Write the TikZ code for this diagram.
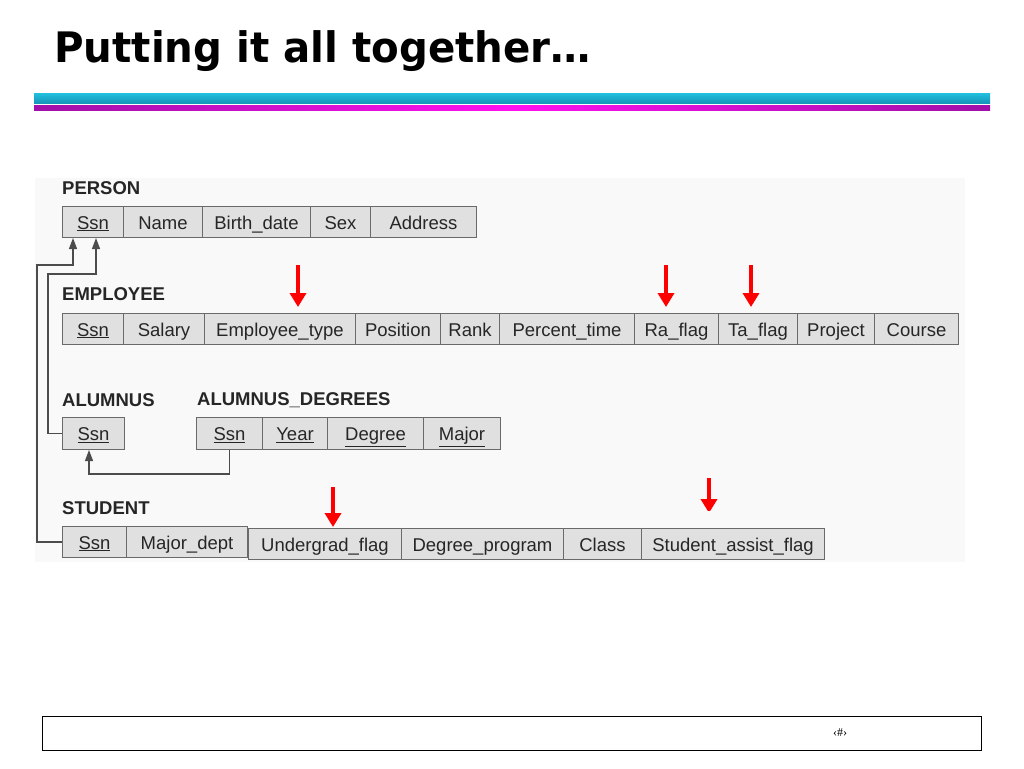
\documentclass[tikz,border=0pt]{standalone}
\usepackage{fontspec}
\setmainfont{Liberation Sans}
\newfontfamily\titlefont{DejaVu Sans}
\newfontfamily\footfont{Liberation Serif}
\usetikzlibrary{arrows.meta,calc}
\definecolor{cellfill}{HTML}{E0E0E0}
\definecolor{cellline}{HTML}{6A6A6A}
\definecolor{cyanA}{HTML}{22C0DF}
\definecolor{cyanB}{HTML}{1696B8}
\definecolor{magA}{HTML}{A010A8}
\definecolor{magB}{HTML}{FF10F0}
\definecolor{figbg}{HTML}{F9F9F9}
\tikzset{
  cell/.style={draw=cellline, fill=cellfill, line width=1pt, anchor=north west,
    inner sep=0pt, minimum height=31pt, text height=15pt, text depth=1pt,
    font=\fontsize{18.5}{20}\selectfont, text=black!85},
  rel/.style={anchor=west, inner sep=0pt, font=\bfseries\fontsize{18.5}{20}\selectfont, text=black!85},
  fk/.style={draw=black!70, line width=1.2pt, -{Triangle[length=11pt,width=8pt]}},
  redarrow/.style={draw=red, line width=4pt, -{Triangle[length=14pt,width=16pt]}},
}
\newcommand{\key}[1]{\underline{#1}}
\begin{document}
\begin{tikzpicture}[x=1pt,y=-1pt]
\useasboundingbox (0,0) rectangle (1024,768);
% title
\node[anchor=base west, inner sep=0pt, font=\titlefont\bfseries\fontsize{42}{46}\selectfont, xscale=0.96] (title) at (54,63) {Putting it all together…};
% bars
\shade[top color=cyanA, bottom color=cyanB] (34,93) rectangle (990,103);
\shade[left color=magA, right color=magA, middle color=magB] (34,105) rectangle (990,110);
% figure background
\fill[figbg] (35,178) rectangle (965,562);
% PERSON
\node[rel] (lperson) at (62,188) {PERSON};
\node[cell, minimum width=61pt] (p1) at (62,206) {\key{Ssn}};
\node[cell, minimum width=79pt] (p2) at (123,206) {Name};
\node[cell, minimum width=108pt] (p3) at (202,206) {Birth\_date};
\node[cell, minimum width=60pt] (p4) at (310,206) {Sex};
\node[cell, minimum width=106pt] (p5) at (370,206) {Address};
% EMPLOYEE
\node[rel] (lemp) at (62,294) {EMPLOYEE};
\node[cell, minimum width=61pt] (e1) at (62,313) {\key{Ssn}};
\node[cell, minimum width=81pt] (e2) at (123,313) {Salary};
\node[cell, minimum width=151pt] (e3) at (204,313) {Employee\_type};
\node[cell, minimum width=85pt] (e4) at (355,313) {Position};
\node[cell, minimum width=59pt] (e5) at (440,313) {Rank};
\node[cell, minimum width=135pt] (e6) at (499,313) {Percent\_time};
\node[cell, minimum width=84pt] (e7) at (634,313) {Ra\_flag};
\node[cell, minimum width=79pt] (e8) at (718,313) {Ta\_flag};
\node[cell, minimum width=77pt] (e9) at (797,313) {Project};
\node[cell, minimum width=84pt] (e10) at (874,313) {Course};
% ALUMNUS
\node[rel] (lalum) at (62,400) {ALUMNUS};
\node[rel] (lad) at (197,400) {ALUMNUS\_DEGREES};
\node[cell, minimum width=62pt, minimum height=32pt] (a1) at (62,417) {\key{Ssn}};
\node[cell, minimum width=66pt, minimum height=32pt] (d1) at (196,417) {\key{Ssn}};
\node[cell, minimum width=65pt, minimum height=32pt] (d2) at (262,417) {\key{Year}};
\node[cell, minimum width=96pt, minimum height=32pt] (d3) at (327,417) {\key{Degree}};
\node[cell, minimum width=77pt, minimum height=32pt] (d4) at (423,417) {\key{Major}};
% STUDENT
\node[rel] (lstud) at (62,508) {STUDENT};
\node[cell, minimum width=64pt] (s1) at (62,526) {\key{Ssn}};
\node[cell, minimum width=121pt] (s2) at (126,526) {Major\_dept};
\node[cell, minimum width=153pt] (s3) at (248,528) {Undergrad\_flag};
\node[cell, minimum width=162pt] (s4) at (401,528) {Degree\_program};
\node[cell, minimum width=78pt] (s5) at (563,528) {Class};
\node[cell, minimum width=183pt] (s6) at (641,528) {Student\_assist\_flag};
% foreign keys
\draw[fk] (d1.south) -- ++(0,24) -| ($(a1.south west)+(27,0)$);
\draw[fk] (a1.west) -- ++(-14,0) |- ($(p1.south west)+(34,36)$) -- ($(p1.south west)+(34,0)$);
\draw[fk] (s1.west) -- ++(-25,0) |- ($(p1.south west)+(11,27)$) -- ($(p1.south west)+(11,0)$);
% red arrows
\draw[redarrow] ($(e3.north west)+(94,-48)$) -- ($(e3.north west)+(94,-6)$);
\draw[redarrow] ($(e7.north west)+(32,-48)$) -- ($(e7.north west)+(32,-6)$);
\draw[redarrow] ($(e8.north west)+(33,-48)$) -- ($(e8.north west)+(33,-6)$);
\draw[redarrow] ($(s3.north west)+(85,-41)$) -- ($(s3.north west)+(85,-1)$);
\begin{scope}
\clip (600,470) rectangle (800,510);
\draw[redarrow] ($(s6.north west)+(68,-50)$) -- ($(s6.north west)+(68,-15)$);
\end{scope}
% footer
\node[draw=black, line width=1pt, anchor=north west, minimum width=939pt, minimum height=34pt, inner sep=0pt] (footer) at (42,716) {};
\node[font=\footfont\fontsize{12}{14}\selectfont] (num) at (840,733) {‹\#›};
\end{tikzpicture}
\end{document}
